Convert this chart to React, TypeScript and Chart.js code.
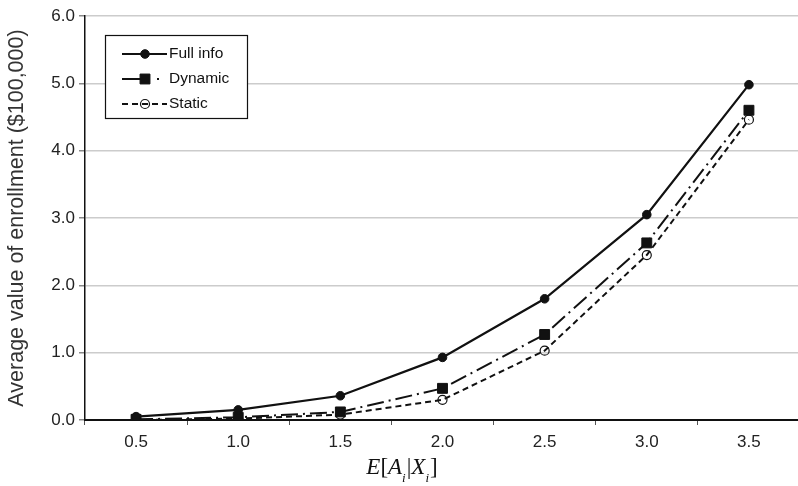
import React, { useEffect, useRef } from 'react';
import { Chart, registerables } from 'chart.js';

Chart.register(...registerables);

const SANS = "'Liberation Sans', Arial, Helvetica, sans-serif";
const SERIF = "'Liberation Serif', 'Times New Roman', serif";

const categories = ['0.5', '1.0', '1.5', '2.0', '2.5', '3.0', '3.5'];
const fullInfo = [0.05, 0.15, 0.36, 0.93, 1.8, 3.05, 4.98];
const dynamicVals = [0.01, 0.04, 0.12, 0.47, 1.27, 2.63, 4.6];
const staticVals = [0.0, 0.02, 0.08, 0.3, 1.03, 2.45, 4.46];
const seriesLabels = ['Full info', 'Dynamic', 'Static'];
const yAxisTitle = 'Average value of enrollment ($100,000)';
const yMin = 0;
const yMax = 6;
const yStep = 1;

// x-axis title pieces: [text, italic, subscript]
const xTitleParts: [string, boolean, boolean][] = [
  ['E', true, false],
  ['[', false, false],
  ['A', true, false],
  ['i', true, true],
  ['|', false, false],
  ['X', true, false],
  ['i', true, true],
  [']', false, false],
];

function drawMarker(ctx: CanvasRenderingContext2D, style: string, x: number, y: number, r: number, fill: string, stroke: string, bw: number) {
  ctx.save();
  ctx.setLineDash([]);
  ctx.fillStyle = fill;
  ctx.strokeStyle = stroke;
  ctx.lineWidth = bw;
  ctx.beginPath();
  if (style === 'rect') {
    const s = Math.SQRT1_2 * r;
    ctx.rect(x - s, y - s, 2 * s, 2 * s);
  } else {
    ctx.arc(x, y, r, 0, Math.PI * 2);
  }
  ctx.fill();
  ctx.stroke();
  ctx.restore();
}

const boxLegend = {
  id: 'boxLegend',
  afterDraw(chart: any) {
    const ctx: CanvasRenderingContext2D = chart.ctx;
    ctx.save();
    const x0 = 105, y0 = 35, w = 142, h = 83;
    ctx.fillStyle = '#ffffff';
    ctx.fillRect(x0, y0, w, h);
    ctx.strokeStyle = '#111111';
    ctx.lineWidth = 1.2;
    ctx.strokeRect(x0 + 0.5, y0 + 0.5, w, h);
    const rows = [54, 79, 104];
    chart.data.datasets.forEach((ds: any, i: number) => {
      const y = rows[i];
      ctx.save();
      ctx.beginPath();
      const dash = ds.borderDash || [];
      // dash-dot sample: long dash, marker, single dot
      ctx.setLineDash(dash.length === 4 ? [20, 15, 2, 20] : dash);
      ctx.lineWidth = ds.borderWidth;
      ctx.strokeStyle = ds.borderColor;
      ctx.moveTo(122, y);
      ctx.lineTo(167, y);
      ctx.stroke();
      ctx.restore();
      drawMarker(ctx, ds.pointStyle, 145, y, ds.pointRadius, ds.pointBackgroundColor, ds.pointBorderColor, ds.pointBorderWidth);
      ctx.fillStyle = '#111111';
      ctx.font = `15.5px ${SANS}`;
      ctx.textAlign = 'left';
      ctx.textBaseline = 'middle';
      ctx.fillText(ds.label, 169, y);
    });
    ctx.restore();
  },
};

const xTitlePlugin = {
  id: 'xTitle',
  afterDraw(chart: any) {
    const ctx: CanvasRenderingContext2D = chart.ctx;
    ctx.save();
    const mainSize = 23;
    const subSize = 13;
    const fontFor = (italic: boolean, sub: boolean) =>
      `${italic ? 'italic ' : ''}${sub ? subSize : mainSize}px ${SERIF}`;
    let total = 0;
    const widths = xTitleParts.map(([t, it, sub]) => {
      ctx.font = fontFor(it, sub);
      const wd = ctx.measureText(t).width + (sub ? 1 : 0);
      total += wd;
      return wd;
    });
    let x = 402 - total / 2;
    const baseline = 474;
    ctx.fillStyle = '#111111';
    ctx.textBaseline = 'alphabetic';
    ctx.textAlign = 'left';
    xTitleParts.forEach(([t, it, sub], i) => {
      ctx.font = fontFor(it, sub);
      ctx.fillText(t, x, sub ? baseline + 8 : baseline);
      x += widths[i];
    });
    ctx.restore();
  },
};

export default function App() {
  const ref = useRef<HTMLCanvasElement | null>(null);
  useEffect(() => {
    if (!ref.current) return;
    const chart = new Chart(ref.current, {
      type: 'line',
      data: {
        labels: categories,
        datasets: [
          {
            label: seriesLabels[0],
            data: fullInfo,
            borderColor: '#111111',
            borderWidth: 2.2,
            pointStyle: 'circle',
            pointRadius: 4.3,
            pointBackgroundColor: '#111111',
            pointBorderColor: '#111111',
            pointBorderWidth: 1,
            tension: 0,
          },
          {
            label: seriesLabels[1],
            data: dynamicVals,
            borderColor: '#111111',
            borderWidth: 2,
            borderDash: [17, 5, 2, 5],
            pointStyle: 'rect',
            pointRadius: 7,
            pointBackgroundColor: '#111111',
            pointBorderColor: '#111111',
            pointBorderWidth: 1,
            tension: 0,
          },
          {
            label: seriesLabels[2],
            data: staticVals,
            borderColor: '#111111',
            borderWidth: 2,
            borderDash: [6, 4],
            pointStyle: 'circle',
            pointRadius: 4.5,
            pointBackgroundColor: 'rgba(255,255,255,0)',
            pointBorderColor: '#111111',
            pointBorderWidth: 1.2,
            tension: 0,
          },
        ] as any,
      },
      options: {
        animation: false,
        responsive: true,
        maintainAspectRatio: false,
        layout: { padding: { top: 16, right: 2, bottom: 0, left: 0 } },
        plugins: {
          legend: { display: false },
          tooltip: { enabled: false },
          title: { display: false },
        },
        scales: {
          x: {
            type: 'category',
            offset: true,
            grid: {
              offset: true,
              drawOnChartArea: false,
              drawTicks: true,
              tickLength: 5,
              tickColor: '#555555',
            },
            border: { display: true, color: '#111111', width: 2 },
            ticks: {
              color: '#222222',
              font: { family: SANS, size: 17 },
              padding: 7,
              maxRotation: 0,
            },
            afterFit: (scale: any) => {
              scale.height = 66;
            },
          },
          y: {
            min: yMin,
            max: yMax,
            grid: {
              color: '#cccccc',
              lineWidth: 1.5,
              drawTicks: true,
              tickLength: 6,
              tickColor: '#888888',
            },
            border: { display: true, color: '#111111', width: 1.5 },
            ticks: {
              stepSize: yStep,
              color: '#222222',
              font: { family: SANS, size: 17 },
              padding: 4,
              callback: (v: any) => Number(v).toFixed(1),
            },
            title: {
              display: true,
              text: yAxisTitle,
              color: '#333333',
              font: { family: SANS, size: 21.5 },
              padding: { top: 4.5, bottom: 0 },
            },
            afterFit: (scale: any) => {
              scale.width = 85;
            },
          },
        },
      },
      plugins: [boxLegend, xTitlePlugin],
    } as any);
    return () => chart.destroy();
  }, []);
  return (
    <div style={{ position: 'fixed', left: 0, top: 0, width: 808, height: 486, background: '#ffffff' }}>
      <canvas ref={ref} />
    </div>
  );
}
